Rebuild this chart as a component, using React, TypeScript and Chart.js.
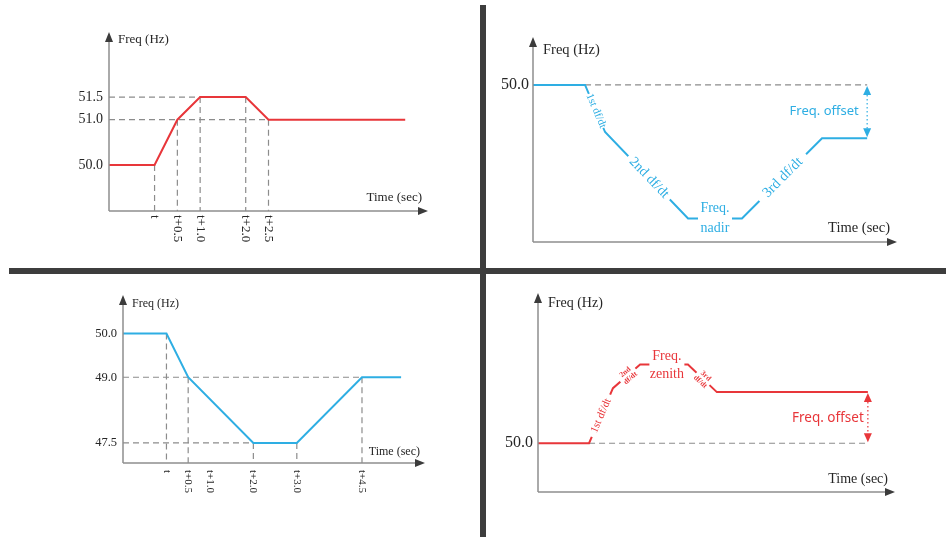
import React, { useEffect, useRef } from "react";
import { Chart, registerables } from "chart.js";

Chart.register(...registerables);

const W = 946;
const H = 537;

// ---------- Panel A (top-left): over-frequency, stepped ----------
const aTime = [-1, 0, 0.5, 1.0, 2.0, 2.5, 5.5];
const aFreq = [50.0, 50.0, 51.0, 51.5, 51.5, 51.0, 51.0];
const aTimeTicks = [0, 0.5, 1.0, 2.0, 2.5];
const aTimeLabels = ["t", "t+0.5", "t+1.0", "t+2.0", "t+2.5"];
const aFreqTicks = [50.0, 51.0, 51.5];
const aFreqLabels = ["50.0", "51.0", "51.5"];

// ---------- Panel B (top-right): under-frequency schematic ----------
const bTime = [0, 1.43, 1.98, 4.26, 5.74, 7.94, 9.18];
const bFreq = [50.0, 50.0, 49.4, 48.3, 48.3, 49.32, 49.32];
const bFreqTicks = [50.0];
const bFreqLabels = ["50.0"];
const bSegLabels = [["1st df/dt"], ["2nd df/dt"], ["Freq.", "nadir"], ["3rd df/dt"]];

// ---------- Panel C (bottom-left): under-frequency, stepped ----------
const cTime = [-1, 0, 0.5, 2.0, 3.0, 4.5, 5.4];
const cFreq = [50.0, 50.0, 49.0, 47.5, 47.5, 49.0, 49.0];
const cTimeTicks = [0, 0.5, 1.0, 2.0, 3.0, 4.5];
const cTimeLabels = ["t", "t+0.5", "t+1.0", "t+2.0", "t+3.0", "t+4.5"];
const cFreqTicks = [50.0, 49.0, 47.5];
const cFreqLabels = ["50.0", "49.0", "47.5"];

// ---------- Panel D (bottom-right): over-frequency schematic ----------
const dTime = [0, 1.43, 2.1, 2.86, 4.2, 5.01, 9.24];
const dFreq = [50.0, 50.0, 50.7, 51.0, 51.0, 50.65, 50.65];
const dFreqTicks = [50.0];
const dFreqLabels = ["50.0"];
const dSegLabels = [["1st df/dt"], ["2nd", "df/dt"], ["Freq.", "zenith"], ["3rd", "df/dt"]];

const offsetText = "Freq. offset";
const yTitle = "Freq (Hz)";
const xTitle = "Time (sec)";

const SERIF = "'Liberation Serif', 'Times New Roman', serif";
const SANS = "'Noto Sans', 'Open Sans', sans-serif";
const RED = "#e8363a";
const BLUE = "#2eaee3";
const GUIDE = "#8c8c8c";
const AXIS = "#8f8f8f";
const HEAD = "#3b3b3b";
const TEXT = "#262626";

type SegLabel = {
  seg: number;
  frac: number;
  lines: string[];
  font: string;
  gap: number;
  offsets: number[];
};

type PanelCfg = {
  time: number[];
  freq: number[];
  color: string;
  area: [number, number, number, number];
  xRange: [number, number];
  yRange: [number, number];
  freqTicks: number[];
  freqLabels: string[];
  timeTicks?: number[];
  timeLabels?: string[];
  tickFont: string;
  xTickFont?: string;
  xTickGap?: number;
  yTickGap: number;
  titleFont: string;
  yTitlePos: [number, number];
  xTitlePos: [number, number];
  mode: "grid" | "offset";
  segLabels?: SegLabel[];
  offsetFont?: string;
  offsetDx?: number;
};

const panels: PanelCfg[] = [
  {
    time: aTime, freq: aFreq, color: RED,
    area: [109, 32, 428, 211], xRange: [-1, 6], yRange: [48.98, 52.94],
    freqTicks: aFreqTicks, freqLabels: aFreqLabels,
    timeTicks: aTimeTicks, timeLabels: aTimeLabels,
    tickFont: `14px ${SERIF}`, xTickFont: `13px ${SERIF}`, xTickGap: 4, yTickGap: 6,
    titleFont: `13px ${SERIF}`, yTitlePos: [9, 8], xTitlePos: [-6, -13], mode: "grid",
  },
  {
    time: bTime, freq: bFreq, color: BLUE,
    area: [533, 37, 897, 242], xRange: [0, 10], yRange: [48.0, 50.61],
    freqTicks: bFreqTicks, freqLabels: bFreqLabels,
    tickFont: `16px ${SERIF}`, yTickGap: 4,
    titleFont: `14.5px ${SERIF}`, yTitlePos: [10, 13], xTitlePos: [-7, -14], mode: "offset",
    segLabels: [
      { seg: 1, frac: 0.55, lines: bSegLabels[0], font: `11px ${SERIF}`, gap: 37, offsets: [0] },
      { seg: 2, frac: 0.53, lines: bSegLabels[1], font: `14px ${SERIF}`, gap: 60, offsets: [0] },
      { seg: 3, frac: 0.5, lines: bSegLabels[2], font: `14px ${SERIF}`, gap: 34, offsets: [-10, 10] },
      { seg: 4, frac: 0.51, lines: bSegLabels[3], font: `14.5px ${SERIF}`, gap: 66, offsets: [0] },
    ],
    offsetFont: `13px ${SANS}`, offsetDx: -43,
  },
  {
    time: cTime, freq: cFreq, color: BLUE,
    area: [123, 295, 425, 463], xRange: [-1, 5.95], yRange: [47.04, 50.88],
    freqTicks: cFreqTicks, freqLabels: cFreqLabels,
    timeTicks: cTimeTicks, timeLabels: cTimeLabels,
    tickFont: `12.5px ${SERIF}`, xTickFont: `11px ${SERIF}`, xTickGap: 7, yTickGap: 6,
    titleFont: `12px ${SERIF}`, yTitlePos: [9, 9], xTitlePos: [-5, -11], mode: "grid",
  },
  {
    time: dTime, freq: dFreq, color: RED,
    area: [538, 293, 895, 492], xRange: [0, 10], yRange: [49.38, 51.91],
    freqTicks: dFreqTicks, freqLabels: dFreqLabels,
    tickFont: `16px ${SERIF}`, yTickGap: 5,
    titleFont: `14px ${SERIF}`, yTitlePos: [10, 10], xTitlePos: [-7, -13], mode: "offset",
    segLabels: [
      { seg: 1, frac: 0.5, lines: dSegLabels[0], font: `11px ${SERIF}`, gap: 46, offsets: [0] },
      { seg: 2, frac: 0.55, lines: dSegLabels[1], font: `bold 7.5px ${SERIF}`, gap: 20, offsets: [-4, 4] },
      { seg: 3, frac: 0.56, lines: dSegLabels[2], font: `14px ${SERIF}`, gap: 35, offsets: [-8, 10] },
      { seg: 4, frac: 0.52, lines: dSegLabels[3], font: `bold 7.5px ${SERIF}`, gap: 18, offsets: [-4, 4] },
    ],
    offsetFont: `13.5px ${SANS}`, offsetDx: -40,
  },
];

function triangle(ctx: CanvasRenderingContext2D, tx: number, ty: number, dir: "up" | "down" | "right", len: number, half: number, color: string) {
  ctx.save();
  ctx.fillStyle = color;
  ctx.beginPath();
  if (dir === "up") {
    ctx.moveTo(tx, ty);
    ctx.lineTo(tx - half, ty + len);
    ctx.lineTo(tx + half, ty + len);
  } else if (dir === "down") {
    ctx.moveTo(tx, ty);
    ctx.lineTo(tx - half, ty - len);
    ctx.lineTo(tx + half, ty - len);
  } else {
    ctx.moveTo(tx, ty);
    ctx.lineTo(tx - len, ty - half);
    ctx.lineTo(tx - len, ty + half);
  }
  ctx.closePath();
  ctx.fill();
  ctx.restore();
}

function Panel({ cfg }: { cfg: PanelCfg }) {
  const ref = useRef<HTMLCanvasElement | null>(null);

  useEffect(() => {
    const canvas = ref.current;
    if (!canvas) return;
    const [L, T, R, B] = cfg.area;
    const { time, freq } = cfg;
    const last = time.length - 1;

    const plugin = {
      id: "schematic",
      beforeDatasetsDraw(chart: any) {
        const ctx: CanvasRenderingContext2D = chart.ctx;
        const xs = chart.scales.x;
        const ys = chart.scales.y;
        ctx.save();
        ctx.strokeStyle = GUIDE;
        ctx.lineWidth = 1.2;
        ctx.setLineDash([6, 4]);
        if (cfg.mode === "grid" && cfg.timeTicks) {
          const ticks = cfg.timeTicks;
          ticks.forEach((tt) => {
            const idx = time.indexOf(tt);
            if (idx < 0) return;
            const x = xs.getPixelForValue(tt);
            ctx.beginPath();
            ctx.moveTo(x, ys.getPixelForValue(freq[idx]));
            ctx.lineTo(x, B);
            ctx.stroke();
          });
          cfg.freqTicks.forEach((f) => {
            const hits = ticks.filter((tt) => {
              const idx = time.indexOf(tt);
              return idx >= 0 && freq[idx] === f;
            });
            if (!hits.length) return;
            const y = ys.getPixelForValue(f);
            ctx.beginPath();
            ctx.moveTo(L, y);
            ctx.lineTo(xs.getPixelForValue(Math.max(...hits)), y);
            ctx.stroke();
          });
        } else {
          const y = ys.getPixelForValue(freq[0]);
          ctx.beginPath();
          ctx.moveTo(xs.getPixelForValue(time[1]), y);
          ctx.lineTo(xs.getPixelForValue(time[last]), y);
          ctx.stroke();
        }
        ctx.restore();
      },
      afterDatasetsDraw(chart: any) {
        const ctx: CanvasRenderingContext2D = chart.ctx;
        const xs = chart.scales.x;
        const ys = chart.scales.y;

        (cfg.segLabels || []).forEach((lab) => {
          const x0 = xs.getPixelForValue(time[lab.seg]);
          const y0 = ys.getPixelForValue(freq[lab.seg]);
          const x1 = xs.getPixelForValue(time[lab.seg + 1]);
          const y1 = ys.getPixelForValue(freq[lab.seg + 1]);
          const cx = x0 + (x1 - x0) * lab.frac;
          const cy = y0 + (y1 - y0) * lab.frac;
          const ang = Math.atan2(y1 - y0, x1 - x0);
          ctx.save();
          ctx.translate(cx, cy);
          ctx.rotate(ang);
          ctx.fillStyle = "#ffffff";
          ctx.fillRect(-lab.gap / 2, -3.5, lab.gap, 7);
          ctx.fillStyle = cfg.color;
          ctx.font = lab.font;
          ctx.textAlign = "center";
          ctx.textBaseline = "middle";
          lab.lines.forEach((ln, i) => ctx.fillText(ln, 0, lab.offsets[i] || 0));
          ctx.restore();
        });

        if (cfg.mode === "offset") {
          const ax = xs.getPixelForValue(time[last]);
          const yBase = ys.getPixelForValue(freq[0]);
          const yOff = ys.getPixelForValue(freq[last]);
          const top = Math.min(yBase, yOff);
          const bot = Math.max(yBase, yOff);
          ctx.save();
          ctx.strokeStyle = cfg.color;
          ctx.lineWidth = 1.2;
          ctx.setLineDash([1.5, 2.5]);
          ctx.beginPath();
          ctx.moveTo(ax, top + 6);
          ctx.lineTo(ax, bot - 6);
          ctx.stroke();
          ctx.restore();
          triangle(ctx, ax, top + 1, "up", 9, 4, cfg.color);
          triangle(ctx, ax, bot - 1, "down", 9, 4, cfg.color);
          ctx.save();
          ctx.fillStyle = cfg.color;
          ctx.font = cfg.offsetFont || `13px ${SANS}`;
          ctx.textAlign = "center";
          ctx.textBaseline = "middle";
          ctx.fillText(offsetText, ax + (cfg.offsetDx || -42), (top + bot) / 2);
          ctx.restore();
        }
      },
      afterDraw(chart: any) {
        const ctx: CanvasRenderingContext2D = chart.ctx;
        const xs = chart.scales.x;
        const ys = chart.scales.y;
        ctx.save();
        ctx.strokeStyle = AXIS;
        ctx.lineWidth = 1.5;
        ctx.beginPath();
        ctx.moveTo(L, B);
        ctx.lineTo(R - 6, B);
        ctx.moveTo(L, B);
        ctx.lineTo(L, T + 6);
        ctx.stroke();
        ctx.restore();
        triangle(ctx, R, B, "right", 10, 4, HEAD);
        triangle(ctx, L, T, "up", 10, 4, HEAD);

        ctx.save();
        ctx.fillStyle = TEXT;
        ctx.font = cfg.tickFont;
        ctx.textAlign = "right";
        ctx.textBaseline = "middle";
        cfg.freqTicks.forEach((f, i) => {
          ctx.fillText(cfg.freqLabels[i], L - cfg.yTickGap, ys.getPixelForValue(f));
        });
        ctx.restore();

        if (cfg.timeTicks && cfg.timeLabels) {
          const labels = cfg.timeLabels;
          cfg.timeTicks.forEach((tt, i) => {
            ctx.save();
            ctx.translate(xs.getPixelForValue(tt), B + (cfg.xTickGap || 4));
            ctx.rotate(Math.PI / 2);
            ctx.fillStyle = TEXT;
            ctx.font = cfg.xTickFont || cfg.tickFont;
            ctx.textAlign = "left";
            ctx.textBaseline = "middle";
            ctx.fillText(labels[i], 0, 0);
            ctx.restore();
          });
        }

        ctx.save();
        ctx.fillStyle = TEXT;
        ctx.font = cfg.titleFont;
        ctx.textBaseline = "middle";
        ctx.textAlign = "left";
        ctx.fillText(yTitle, L + cfg.yTitlePos[0], T + cfg.yTitlePos[1]);
        ctx.textAlign = "right";
        ctx.fillText(xTitle, R + cfg.xTitlePos[0], B + cfg.xTitlePos[1]);
        ctx.restore();
      },
    };

    const chart = new Chart(canvas, {
      type: "line",
      data: {
        datasets: [
          {
            data: time.map((t, i) => ({ x: t, y: freq[i] })),
            borderColor: cfg.color,
            backgroundColor: cfg.color,
            borderWidth: 2,
            pointRadius: 0,
            tension: 0,
            fill: false,
            clip: false as any,
          },
        ],
      },
      options: {
        animation: false,
        responsive: false,
        events: [],
        layout: { padding: { left: L, top: T, right: W - R, bottom: H - B } },
        scales: {
          x: { type: "linear", min: cfg.xRange[0], max: cfg.xRange[1], display: false },
          y: { type: "linear", min: cfg.yRange[0], max: cfg.yRange[1], display: false },
        },
        plugins: { legend: { display: false }, tooltip: { enabled: false } },
      },
      plugins: [plugin as any],
    });
    return () => chart.destroy();
  }, [cfg]);

  return (
    <canvas
      ref={ref}
      width={W}
      height={H}
      style={{ position: "absolute", left: 0, top: 0, width: W, height: H }}
    />
  );
}

export default function App() {
  return (
    <div
      style={{
        position: "fixed",
        left: 0,
        top: 0,
        width: W,
        height: H,
        background: "#ffffff",
        overflow: "hidden",
      }}
    >
      {panels.map((p, i) => (
        <Panel key={i} cfg={p} />
      ))}
      <div style={{ position: "absolute", left: 480, top: 5, width: 6, height: H - 5, background: "#3d3d3d" }} />
      <div style={{ position: "absolute", left: 9, top: 268, width: W - 9, height: 6, background: "#3d3d3d" }} />
    </div>
  );
}
